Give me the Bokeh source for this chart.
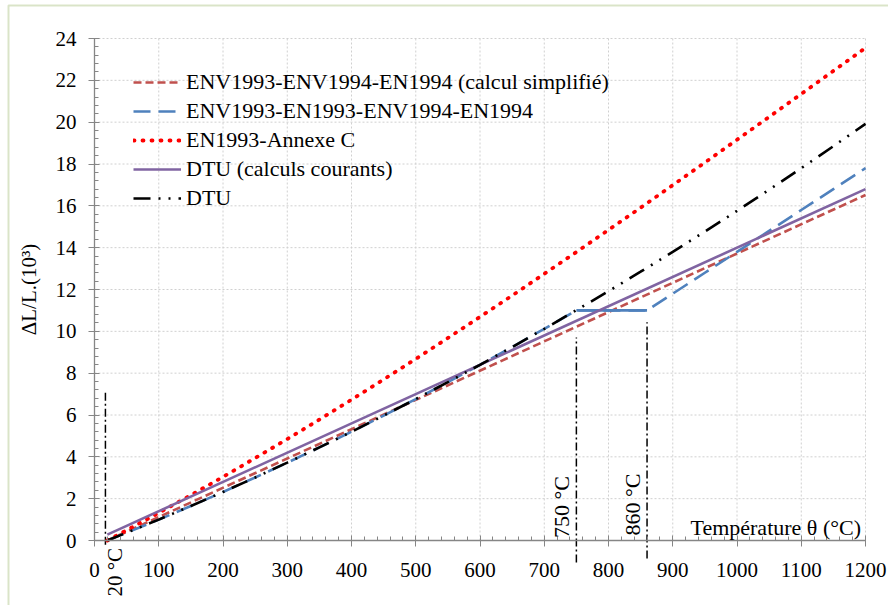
import math
from bokeh.plotting import figure
from bokeh.models import (Range1d, SingleIntervalTicker, Label, Legend, LegendItem,
                          BoxAnnotation)
from bokeh.embed import file_html
from bokeh.resources import INLINE

# ---------------- data ----------------
temp_main = [20, 50, 100, 150, 200, 250, 300, 350, 400, 450, 500, 550, 600, 650,
             700, 750, 800, 850, 900, 950, 1000, 1050, 1100, 1150, 1200]
dtu = [0.0, 0.37, 1.00, 1.65, 2.32, 3.01, 3.72, 4.45, 5.20, 5.97, 6.76, 7.57, 8.40,
       9.25, 10.12, 11.01, 11.92, 12.85, 13.80, 14.77, 15.76, 16.77, 17.80, 18.85, 19.92]
annexe_c = [0.0, 0.49, 1.32, 2.17, 3.04, 3.94, 4.85, 5.78, 6.73, 7.70, 8.68, 9.68,
            10.69, 11.71, 12.75, 13.79, 14.85, 15.91, 16.99, 18.07, 19.16, 20.25,
            21.35, 22.45, 23.55]

temp_en = [20, 50, 100, 150, 200, 250, 300, 350, 400, 450, 500, 550, 600, 650, 700,
           750, 860, 900, 950, 1000, 1050, 1100, 1150, 1200]
en1993 = [0.0, 0.37, 1.00, 1.65, 2.32, 3.01, 3.72, 4.45, 5.20, 5.97, 6.76, 7.57, 8.40,
          9.25, 10.12, 11.0, 11.0, 11.8, 12.8, 13.8, 14.8, 15.8, 16.8, 17.8]
plateau_t = [750, 860]
plateau = [11.0, 11.0]

temp_simple = [20, 1200]
simple = [0.0, 16.52]
temp_courant = [20, 1200]
courant = [0.28, 16.8]

marks_t = [17, 750, 860]
marks_top = [7.08, 9.71, 10.43]
marks_bottom = [-0.2, -1.05, -0.86]

x_ticks = list(range(0, 1300, 100))
y_ticks = list(range(0, 26, 2))

labels = ["ENV1993-ENV1994-EN1994 (calcul simplifié)",
          "ENV1993-EN1993-ENV1994-EN1994",
          "EN1993-Annexe C",
          "DTU (calculs courants)",
          "DTU"]

FONT = "Liberation Serif"
AXIS_GRAY = "#868686"

W, H = 888, 605
# plot-area placement inside the canvas (pixels)
PX_LEFT, PX_RIGHT, PX_TOP, PX_BOTTOM = 94, 865, 38, 540
sx = (PX_RIGHT - PX_LEFT) / (x_ticks[-1] - x_ticks[0])
sy = (PX_BOTTOM - PX_TOP) / (y_ticks[-1] - y_ticks[0])
x_start = x_ticks[0] - PX_LEFT / sx
x_end = x_ticks[-1] + (W - PX_RIGHT) / sx
y_end = y_ticks[-1] + PX_TOP / sy
y_start = y_ticks[0] - (H - PX_BOTTOM) / sy

p = figure(width=W, height=H, output_backend="svg", toolbar_location=None,
           x_range=Range1d(x_start, x_end), y_range=Range1d(y_start, y_end),
           min_border=0, min_border_left=0, min_border_right=0,
           min_border_top=0, min_border_bottom=0)
p.outline_line_color = None
p.background_fill_color = "white"
p.border_fill_color = "white"
p.xgrid.visible = False
p.ygrid.visible = False

# green chart-area border
p.add_layout(BoxAnnotation(left=x_start + 8 / sx, right=x_end + 20 / sx,
                           top=y_end - 5 / sy, bottom=y_start - 20 / sy,
                           fill_alpha=0, line_color="#86A64A", line_width=2,
                           level="underlay"))

# gridlines (dotted)
p.segment(x0=x_ticks[1:], y0=y_ticks[0], x1=x_ticks[1:], y1=y_ticks[-1],
          line_color="#D0D0D0", line_width=1, line_dash="2 2")
p.segment(x0=x_ticks[0], y0=y_ticks[1:], x1=x_ticks[-1], y1=y_ticks[1:],
          line_color="#D0D0D0", line_width=1, line_dash="2 2")

# axes
xa = p.xaxis[0]
xa.ticker = SingleIntervalTicker(interval=100, num_minor_ticks=5)
xa.bounds = (x_ticks[0], x_ticks[-1])
xa.fixed_location = 0
ya = p.yaxis[0]
ya.ticker = SingleIntervalTicker(interval=2, num_minor_ticks=5)
ya.bounds = (y_ticks[0], y_ticks[-1])
ya.fixed_location = 0
for ax in (xa, ya):
    ax.axis_line_color = AXIS_GRAY
    ax.axis_line_width = 1.3
    ax.major_tick_line_color = AXIS_GRAY
    ax.minor_tick_line_color = AXIS_GRAY
    ax.major_tick_in = 5
    ax.major_tick_out = 6
    ax.minor_tick_in = 4
    ax.minor_tick_out = 0
    ax.major_label_text_font = FONT
    ax.major_label_text_font_size = "21px"
    ax.major_label_text_color = "black"
xa.major_label_standoff = 16
ya.major_label_standoff = 12
ya.axis_label = "ΔL/L.(10³)"
ya.axis_label_text_font = FONT
ya.axis_label_text_font_size = "21px"
ya.axis_label_text_font_style = "normal"
ya.axis_label_text_color = "black"
ya.axis_label_standoff = 12

# vertical reference lines
p.segment(x0=marks_t, y0=marks_bottom, x1=marks_t, y1=marks_top,
          line_color="black", line_width=1.5, line_dash="8 3 2 3")

# series
r_simple = p.line(temp_simple, simple, line_color="#C0504D", line_width=2.6,
                  line_dash="8 4")
r_en = p.line(temp_en, en1993, line_color="#4F81BD", line_width=2.6,
              line_dash="17 8")
p.line(plateau_t, plateau, line_color="#4F81BD", line_width=2.6)
r_annexe = p.line(temp_main, annexe_c, line_color="#FF0000", line_width=3.8,
                  line_dash="1 8", line_cap="round")
r_courant = p.line(temp_courant, courant, line_color="#8064A2", line_width=2.6)
r_dtu = p.line(temp_main, dtu, line_color="black", line_width=2.6,
               line_dash="17 8 2 8 2 8")

legend = Legend(items=[LegendItem(label=labels[0], renderers=[r_simple]),
                       LegendItem(label=labels[1], renderers=[r_en]),
                       LegendItem(label=labels[2], renderers=[r_annexe]),
                       LegendItem(label=labels[3], renderers=[r_courant]),
                       LegendItem(label=labels[4], renderers=[r_dtu])],
                location=(133, 394))
legend.border_line_color = None
legend.background_fill_alpha = 0
legend.padding = 0
legend.margin = 0
legend.spacing = 3
legend.glyph_width = 48
legend.glyph_height = 24
legend.label_height = 24
legend.label_standoff = 5
legend.label_text_font = FONT
legend.label_text_font_size = "22px"
legend.label_text_color = "black"
p.add_layout(legend)

# text annotations
p.add_layout(Label(x=1193, y=0.62, text="Température θ (°C)", text_align="right",
                   text_baseline="alphabetic", text_font=FONT,
                   text_font_size="22px", text_color="black"))
p.add_layout(Label(x=750, y=0.12, text="750 °C", angle=math.pi / 2, x_offset=-2,
                   text_align="left", text_baseline="bottom", text_font=FONT,
                   text_font_size="22px", text_color="black"))
p.add_layout(Label(x=860, y=0.24, text="860 °C", angle=math.pi / 2, x_offset=-2,
                   text_align="left", text_baseline="bottom", text_font=FONT,
                   text_font_size="22px", text_color="black"))
p.add_layout(Label(x=17, y=-2.68, text="20 °C", angle=math.pi / 2, x_offset=-2,
                   text_align="left", text_baseline="top", text_font=FONT,
                   text_font_size="21px", text_color="black"))

open("out.html", "w").write(file_html(p, INLINE))
